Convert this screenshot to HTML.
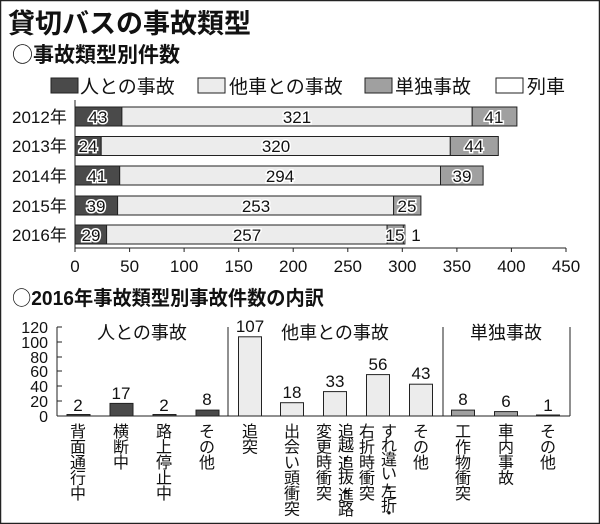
<!DOCTYPE html>
<html><head><meta charset="utf-8"><style>
html,body{margin:0;padding:0;background:#fff}
svg{display:block}
text{font-family:"Liberation Sans","Noto Sans CJK JP",sans-serif;fill:#111}
.n{font-size:17px;text-anchor:middle;paint-order:stroke;stroke:#fff;stroke-width:3px}
.ax{font-size:17px;text-anchor:middle}
.v text{font-size:16px;text-anchor:middle}
.c{font-family:"Noto Sans CJK JP",sans-serif}
</style></head><body>
<svg width="600" height="524" viewBox="0 0 600 524" xmlns="http://www.w3.org/2000/svg">
<rect x="0.5" y="0.5" width="599" height="523" fill="#fff" stroke="#222" stroke-width="1.5"/>
<text x="8" y="33" font-size="27" font-weight="bold">貸切バスの事故類型</text>
<text x="12" y="62" font-size="21" font-weight="bold"><tspan class="c" font-weight="normal">○</tspan>事故類型別件数</text>
<g font-size="19">
<rect x="51" y="78" width="27" height="15" fill="#4a4a4a" stroke="#222"/><text x="80" y="93">人との事故</text>
<rect x="198" y="78" width="27" height="15" fill="#ececec" stroke="#222"/><text x="229" y="93">他車との事故</text>
<rect x="365" y="78" width="27" height="15" fill="#a0a0a0" stroke="#222"/><text x="395" y="93">単独事故</text>
<rect x="496" y="78" width="27" height="15" fill="#fff" stroke="#222"/><text x="527" y="93">列車</text>
</g>
<g font-size="17">
<text x="12" y="123">2012年</text>
<text x="12" y="152">2013年</text>
<text x="12" y="182">2014年</text>
<text x="12" y="212">2015年</text>
<text x="12" y="241">2016年</text>
</g>
<g stroke="#222" stroke-width="1">
<rect x="75" y="107" width="46.9" height="19" fill="#4a4a4a"/>
<rect x="121.9" y="107" width="350.3" height="19" fill="#ececec"/>
<rect x="472.2" y="107" width="44.7" height="19" fill="#a0a0a0"/>
<rect x="75" y="136.5" width="26.2" height="19" fill="#4a4a4a"/>
<rect x="101.2" y="136.5" width="349.1" height="19" fill="#ececec"/>
<rect x="450.3" y="136.5" width="48" height="19" fill="#a0a0a0"/>
<rect x="75" y="166" width="44.7" height="19" fill="#4a4a4a"/>
<rect x="119.7" y="166" width="320.8" height="19" fill="#ececec"/>
<rect x="440.5" y="166" width="42.6" height="19" fill="#a0a0a0"/>
<rect x="75" y="196" width="42.6" height="19" fill="#4a4a4a"/>
<rect x="117.6" y="196" width="276" height="19" fill="#ececec"/>
<rect x="393.6" y="196" width="27.3" height="19" fill="#a0a0a0"/>
<rect x="75" y="225" width="31.6" height="19" fill="#4a4a4a"/>
<rect x="106.6" y="225" width="280.5" height="19" fill="#ececec"/>
<rect x="387.1" y="225" width="16.3" height="19" fill="#a0a0a0"/>
<rect x="403.4" y="225" width="1.5" height="19" fill="#fff"/>
<line x1="75" y1="100" x2="75" y2="248"/>
<line x1="75" y1="248" x2="566" y2="248"/>
<line x1="75" y1="248" x2="75" y2="252"/><line x1="129.6" y1="248" x2="129.6" y2="252"/><line x1="184.1" y1="248" x2="184.1" y2="252"/><line x1="238.7" y1="248" x2="238.7" y2="252"/><line x1="293.2" y1="248" x2="293.2" y2="252"/><line x1="347.8" y1="248" x2="347.8" y2="252"/><line x1="402.3" y1="248" x2="402.3" y2="252"/><line x1="456.9" y1="248" x2="456.9" y2="252"/><line x1="511.4" y1="248" x2="511.4" y2="252"/><line x1="566" y1="248" x2="566" y2="252"/>
</g>
<g class="n">
<text x="98" y="123">43</text><text x="297" y="123">321</text><text x="494" y="123">41</text>
<text x="88" y="152">24</text><text x="276" y="152">320</text><text x="474" y="152">44</text>
<text x="97" y="182">41</text><text x="280" y="182">294</text><text x="462" y="182">39</text>
<text x="96" y="212">39</text><text x="256" y="212">253</text><text x="407" y="212">25</text>
<text x="91" y="241">29</text><text x="247" y="241">257</text><text x="395" y="241">15</text>
<text x="416" y="241">1</text>
</g>
<g class="ax">
<text x="75" y="272">0</text><text x="129.6" y="272">50</text><text x="184.1" y="272">100</text><text x="238.7" y="272">150</text><text x="293.2" y="272">200</text><text x="347.8" y="272">250</text><text x="402.3" y="272">300</text><text x="456.9" y="272">350</text><text x="511.4" y="272">400</text><text x="566" y="272">450</text>
</g>
<text x="12" y="305" font-size="20" font-weight="bold" textLength="312" lengthAdjust="spacingAndGlyphs"><tspan class="c" font-weight="normal">○</tspan>2016年事故類型別事故件数の内訳</text>
<g font-size="16" text-anchor="end">
<text x="48" y="333">120</text><text x="48" y="348">100</text><text x="48" y="363">80</text><text x="48" y="377">60</text><text x="48" y="392">40</text><text x="48" y="407">20</text><text x="48" y="422">0</text>
</g>
<g stroke="#222" stroke-width="1">
<line x1="57" y1="327" x2="57" y2="416"/>
<line x1="57" y1="416" x2="570" y2="416"/>
<line x1="57" y1="327" x2="62" y2="327"/><line x1="57" y1="342" x2="62" y2="342"/><line x1="57" y1="357" x2="62" y2="357"/><line x1="57" y1="371" x2="62" y2="371"/><line x1="57" y1="386" x2="62" y2="386"/><line x1="57" y1="401" x2="62" y2="401"/>
<line x1="228" y1="327" x2="228" y2="416"/>
<line x1="443" y1="327" x2="443" y2="416"/>
<line x1="570" y1="327" x2="570" y2="416"/>
<rect x="67" y="414.5" width="23" height="1.5" fill="#4a4a4a"/>
<rect x="110" y="403.4" width="23" height="12.6" fill="#4a4a4a"/>
<rect x="153" y="414.5" width="23" height="1.5" fill="#4a4a4a"/>
<rect x="196" y="410.1" width="23" height="5.9" fill="#4a4a4a"/>
<rect x="238.5" y="336.8" width="23" height="79.2" fill="#ececec"/>
<rect x="280.5" y="402.7" width="23" height="13.3" fill="#ececec"/>
<rect x="323.5" y="391.6" width="23" height="24.4" fill="#ececec"/>
<rect x="366.5" y="374.6" width="23" height="41.4" fill="#ececec"/>
<rect x="409.5" y="384.2" width="23" height="31.8" fill="#ececec"/>
<rect x="451.5" y="410.1" width="23" height="5.9" fill="#a0a0a0"/>
<rect x="494.5" y="411.6" width="23" height="4.4" fill="#a0a0a0"/>
<rect x="536.5" y="415" width="23" height="1" fill="#a0a0a0"/>
</g>
<g font-size="18" text-anchor="middle">
<text x="142" y="339">人との事故</text>
<text x="335" y="339">他車との事故</text>
<text x="506" y="339">単独事故</text>
</g>
<g font-size="17" text-anchor="middle">
<text x="78" y="411">2</text><text x="121" y="399">17</text><text x="164" y="411">2</text><text x="207" y="405">8</text>
<text x="250" y="332">107</text><text x="292" y="398">18</text><text x="335" y="387">33</text><text x="378" y="370">56</text><text x="421" y="379">43</text>
<text x="463" y="405">8</text><text x="506" y="407">6</text><text x="548" y="411">1</text>
</g>
<g class="v">
<text x="78" y="437">背</text><text x="78" y="452.5">面</text><text x="78" y="468">通</text><text x="78" y="483.5">行</text><text x="78" y="499">中</text>
<text x="121" y="437">横</text><text x="121" y="452.5">断</text><text x="121" y="468">中</text>
<text x="164" y="437">路</text><text x="164" y="452.5">上</text><text x="164" y="468">停</text><text x="164" y="483.5">止</text><text x="164" y="499">中</text>
<text x="207" y="437">そ</text><text x="207" y="452.5">の</text><text x="207" y="468">他</text>
<text x="250" y="437">追</text><text x="250" y="452.5">突</text>
<text x="292" y="437">出</text><text x="292" y="452.5">会</text><text x="292" y="468">い</text><text x="292" y="483.5">頭</text><text x="292" y="499">衝</text><text x="292" y="514.5">突</text>
<text x="324" y="437">変</text><text x="324" y="452.5">更</text><text x="324" y="468">時</text><text x="324" y="483.5">衝</text><text x="324" y="499">突</text>
<text x="346" y="437">追</text><text x="346" y="451">越</text><text x="346" y="466">・</text><text x="346" y="469">追</text><text x="346" y="483">抜</text><text x="346" y="498">・</text><text x="346" y="501">進</text><text x="346" y="515">路</text>
<text x="367" y="437">右</text><text x="367" y="452.5">折</text><text x="367" y="468">時</text><text x="367" y="483.5">衝</text><text x="367" y="499">突</text>
<text x="389" y="437">す</text><text x="389" y="451">れ</text><text x="389" y="465">違</text><text x="389" y="479">い</text><text x="389" y="494">・</text><text x="389" y="497">左</text><text x="389" y="511">折</text><text x="389" y="519">・</text>
<text x="421" y="437">そ</text><text x="421" y="452.5">の</text><text x="421" y="468">他</text>
<text x="463" y="437">工</text><text x="463" y="452.5">作</text><text x="463" y="468">物</text><text x="463" y="483.5">衝</text><text x="463" y="499">突</text>
<text x="506" y="437">車</text><text x="506" y="452.5">内</text><text x="506" y="468">事</text><text x="506" y="483.5">故</text>
<text x="548" y="437">そ</text><text x="548" y="452.5">の</text><text x="548" y="468">他</text>
</g>
</svg>
</body></html>
